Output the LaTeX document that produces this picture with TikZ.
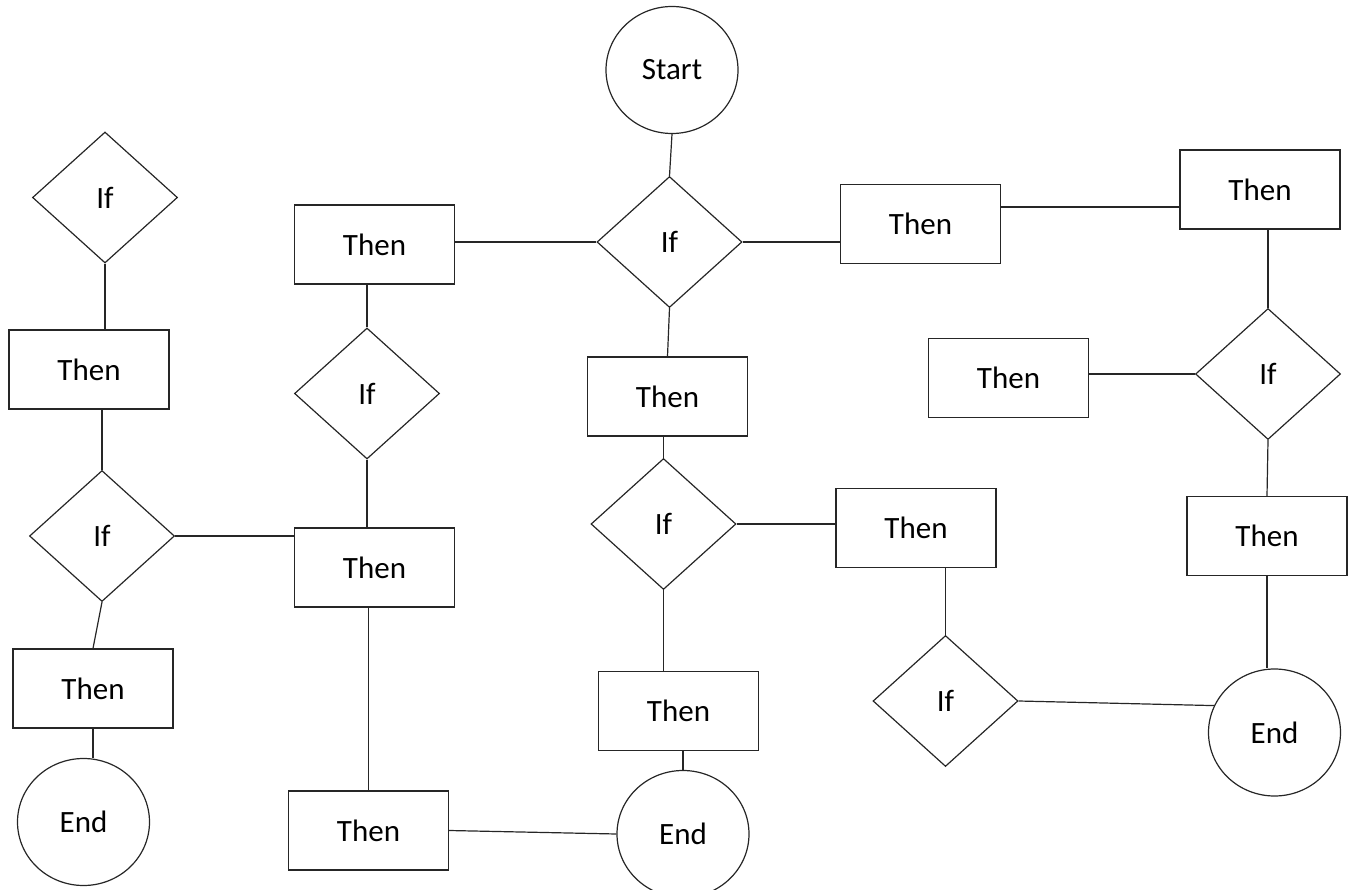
\documentclass[tikz,border=0pt]{standalone}
\usepackage{fontspec}
\setmainfont{Carlito}
\usetikzlibrary{shapes.geometric}
\begin{document}
\begin{tikzpicture}[x=1pt,y=-1pt,
  every node/.style={font=\fontsize{31}{36}\selectfont, inner sep=0pt, line width=1.2pt, draw=black!85},
  box/.style={rectangle, minimum width=160pt, minimum height=79pt},
  dia/.style={diamond, minimum width=145pt, minimum height=131pt},
  term/.style={ellipse, minimum width=132pt, minimum height=127pt},
  conn/.style={line width=1.2pt, draw=black!85}]
\useasboundingbox (0,0) rectangle (1349,890);
% nodes
\node[term] (start) at (672,70) {Start};
\node[dia]  (if1) at (669.5,242) {If};
\node[box]  (tA) at (374.5,244.5) {Then};
\node[box]  (tB) at (920.5,224) {Then};
\node[box]  (tC) at (1260,189.5) {Then};
\node[dia]  (if2) at (1268,374) {If};
\node[box]  (tD) at (1008.5,378) {Then};
\node[box]  (tE) at (1267,536) {Then};
\node[term] (endR) at (1274.5,732.5) {End};
\node[dia]  (if3) at (945.5,701) {If};
\node[box]  (tF) at (916,528) {Then};
\node[dia]  (if4) at (663.5,524) {If};
\node[box]  (tG) at (667.5,396.5) {Then};
\node[box]  (tH) at (678.5,711) {Then};
\node[term] (endM) at (683,834) {End};
\node[box]  (tI) at (368.5,830.5) {Then};
\node[box]  (tJ) at (374.5,567.5) {Then};
\node[dia]  (if5) at (367,393.5) {If};
\node[dia]  (if6) at (105,197.5) {If};
\node[box]  (tK) at (89,369.5) {Then};
\node[dia]  (if7) at (102,536) {If};
\node[box]  (tL) at (93,688.5) {Then};
\node[term] (endL) at (83.5,822) {End};
% helper coordinate
\coordinate (c1) at ([yshift=-17.5pt]tC.west);
% connectors
\draw[conn] (start.south) -- (if1.north);
\draw[conn] (if1.west) -- (if1.west -| tA.east);
\draw[conn] (if1.east) -- (if1.east -| tB.west);
\draw[conn] (c1) -- (c1 -| tB.east);
\draw[conn] (if2.north) -- (if2.north |- tC.south);
\draw[conn] (if2.west) -- (if2.west -| tD.east);
\draw[conn] (if2.south) -- (tE.north);
\draw[conn] (tE.south) -- (tE.south |- endR.north);
\draw[conn] (if3.east) -- (endR.156);
\draw[conn] (if3.north) -- (if3.north |- tF.south);
\draw[conn] (if4.east) -- (if4.east -| tF.west);
\draw[conn] (if4.north) -- (if4.north |- tG.south);
\draw[conn] (if1.south) -- (tG.north);
\draw[conn] (if4.south) -- (if4.south |- tH.north);
\draw[conn] (endM.north) -- (endM.north |- tH.south);
\draw[conn] (tI.east) -- (endM.west);
\draw[conn] (tI.north) -- (tI.north |- tJ.south);
\draw[conn] (if5.south) -- (if5.south |- tJ.north);
\draw[conn] (if5.north) -- (if5.north |- tA.south);
\draw[conn] (if7.east) -- (if7.east -| tJ.west);
\draw[conn] (if7.south) -- (tL.north);
\draw[conn] (if7.north) -- (if7.north |- tK.south);
\draw[conn] (if6.south) -- (if6.south |- tK.north);
\draw[conn] (tL.south) -- (tL.south |- endL.north);
\end{tikzpicture}
\end{document}
